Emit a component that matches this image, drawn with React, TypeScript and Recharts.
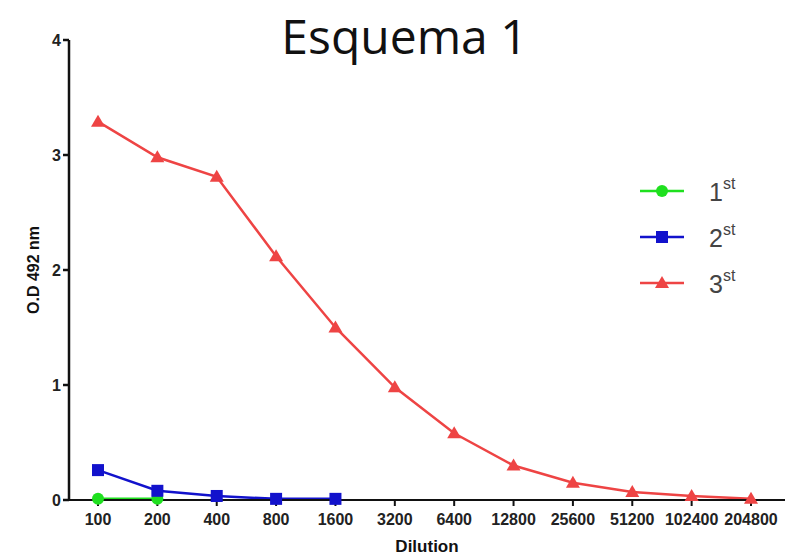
import { LineChart, Line, XAxis, YAxis } from "recharts";

const dilutions = ["100", "200", "400", "800", "1600", "3200", "6400", "12800", "25600", "51200", "102400", "204800"];
const first = [0.01, 0.01];
const second = [0.26, 0.08, 0.035, 0.01, 0.01];
const third = [3.29, 2.98, 2.81, 2.12, 1.5, 0.98, 0.58, 0.3, 0.15, 0.07, 0.035, 0.01];
const yTicks = [0, 1, 2, 3, 4];

const GREEN = "#1fe01f";
const BLUE = "#1212cc";
const RED = "#ee4444";

const data = dilutions.map((d, i) => ({
  dilution: d,
  first: i < first.length ? first[i] : null,
  second: i < second.length ? second[i] : null,
  third: third[i],
}));

const Square = (props: any) => {
  const { cx, cy, key } = props;
  if (cx == null || cy == null) return null;
  return <rect key={key} x={cx - 6} y={cy - 6} width={12} height={12} fill={BLUE} />;
};

const Triangle = (props: any) => {
  const { cx, cy, key } = props;
  if (cx == null || cy == null) return null;
  return <polygon key={key} points={`${cx},${cy - 7} ${cx + 7},${cy + 5} ${cx - 7},${cy + 5}`} fill={RED} />;
};

const legendItems = [
  { label: "1", color: GREEN, shape: "circle" },
  { label: "2", color: BLUE, shape: "square" },
  { label: "3", color: RED, shape: "triangle" },
];

// legend drawn by hand so it doesn't shrink the plot area
const LegendBox = () => (
  <svg width={140} height={150} style={{ position: "absolute", left: 640, top: 165 }}>
    {legendItems.map((item, i) => {
      const y = 26 + i * 46;
      return (
        <g key={item.label}>
          <line x1={0} x2={44} y1={y} y2={y} stroke={item.color} strokeWidth={2.5} />
          {item.shape === "circle" && <circle cx={22} cy={y} r={6} fill={item.color} />}
          {item.shape === "square" && <rect x={16} y={y - 6} width={12} height={12} fill={item.color} />}
          {item.shape === "triangle" && (
            <polygon points={`22,${y - 7} 29,${y + 5} 15,${y + 5}`} fill={item.color} />
          )}
          <text x={69} y={y + 10} fontSize={25} fill="#444" fontFamily="Liberation Sans, Arial, sans-serif">
            {item.label}
            <tspan fontSize={16} dy={-12}>st</tspan>
          </text>
        </g>
      );
    })}
  </svg>
);

export default function App() {
  return (
    <div style={{ position: "absolute", left: 0, top: 0, width: 785, height: 556, background: "#fff" }}>
      <div
        style={{
          position: "absolute",
          left: 0,
          width: 785,
          top: 7,
          textAlign: "center",
          fontFamily: "Open Sans, sans-serif",
          fontSize: 48,
          lineHeight: "58px",
          color: "#111",
          paddingLeft: 12,
        }}
      >
        Esquema 1
      </div>
      <LineChart
        width={785}
        height={556}
        data={data}
        margin={{ top: 40, right: 0, bottom: 6, left: 29 }}
        style={{ fontFamily: "Liberation Sans, Arial, sans-serif" }}
      >
        <XAxis
          dataKey="dilution"
          padding={{ left: 29, right: 34 }}
          height={50}
          stroke="#111"
          strokeWidth={2}
          tickSize={6}
          interval={0}
          tick={{ fill: "#222", fontSize: 16, fontWeight: "bold", dy: 6 }}
          label={{ value: "Dilution", position: "insideBottom", offset: -2, fill: "#111", fontSize: 17, fontWeight: "bold" }}
        />
        <YAxis
          domain={[0, 4]}
          ticks={yTicks}
          width={40}
          stroke="#111"
          strokeWidth={2.5}
          tickSize={6}
          tick={{ fill: "#222", fontSize: 16, fontWeight: "bold" }}
          label={{ value: "O.D 492 nm", angle: -90, position: "insideLeft", offset: 4, dy: 44, fill: "#111", fontSize: 16, fontWeight: "bold" }}
        />
        <Line dataKey="first" stroke={GREEN} strokeWidth={2.5} dot={{ r: 6, fill: GREEN, stroke: "none" }} isAnimationActive={false} />
        <Line dataKey="second" stroke={BLUE} strokeWidth={2.5} dot={Square} isAnimationActive={false} />
        <Line dataKey="third" stroke={RED} strokeWidth={2.5} dot={Triangle} isAnimationActive={false} />
      </LineChart>
      <LegendBox />
    </div>
  );
}
